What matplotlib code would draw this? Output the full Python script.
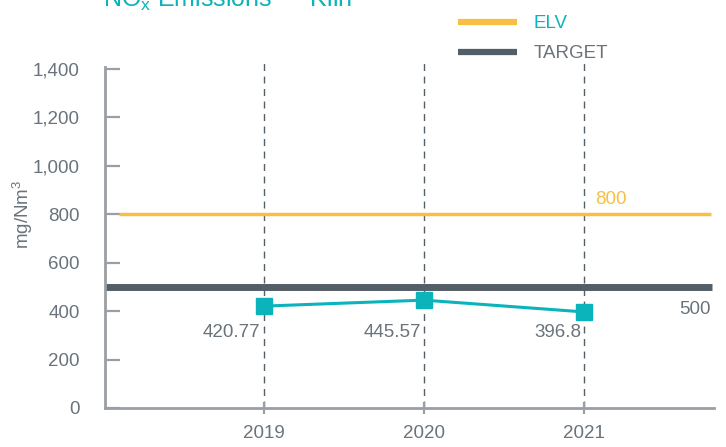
import matplotlib
matplotlib.use("Agg")
import matplotlib.pyplot as plt
from matplotlib.lines import Line2D
from matplotlib.ticker import FuncFormatter

years = ["2019", "2020", "2021"]
nox = [420.77, 445.57, 396.8]
elv = 800
target = 500
yticks = [0, 200, 400, 600, 800, 1000, 1200, 1400]

TEAL = "#0BB3BB"
YELLOW = "#F8BF45"
DARK = "#545E66"
AXIS = "#9A9FA5"
TEXT = "#6A737B"
FS = 13.5

plt.rcParams['font.family'] = ['Liberation Sans', 'DejaVu Sans']

fig = plt.figure(figsize=(7.26, 4.47), dpi=100)
ax = fig.add_axes([105/726, 1-408/447, (714-105)/726, (408-63)/447])

x = list(range(len(years)))
ax.set_xlim(-0.99, 2.81)
ax.set_ylim(0, 1425)

for xi in x:
    ax.axvline(xi, color=DARK, lw=1, ls=(0, (5, 4)), zorder=1)

ax.plot([-0.9, 2.79], [elv, elv], color=YELLOW, lw=2.5, zorder=2, solid_capstyle='butt')
ax.plot([-0.99, 2.8], [target, target], color=DARK, lw=5, zorder=2, solid_capstyle='butt')
ax.plot(x, nox, color=TEAL, lw=2.2, marker='s', ms=11.5, zorder=3)

for xi, v in zip(x, nox):
    ax.text(xi - 0.02, 310, f"{v:g}", ha='right', va='center', fontsize=FS, color=TEXT)

ax.text(2.07, elv + 25, f"{elv}", ha='left', va='bottom', fontsize=FS, color=YELLOW)
ax.text(2.79, 405, f"{target}", ha='right', va='center', fontsize=FS, color=TEXT)

ax.set_yticks(yticks)
ax.yaxis.set_major_formatter(FuncFormatter(lambda v, p: f"{int(v):,}"))
ax.set_xticks(x)
ax.set_xticklabels(years)

for s in ['top', 'right']:
    ax.spines[s].set_visible(False)
for s in ['left', 'bottom']:
    ax.spines[s].set_color(AXIS)
    ax.spines[s].set_linewidth(2)
ax.spines['left'].set_bounds(0, 1410)

ax.tick_params(axis='y', direction='in', length=11, width=1.6, color=AXIS,
               labelsize=FS, labelcolor=TEXT, pad=18)
ax.tick_params(axis='x', direction='inout', length=8, width=1.6, color=AXIS,
               labelsize=FS, labelcolor=TEXT, pad=8)

ax.set_ylabel("mg/Nm$^\\mathregular{3}$", fontsize=FS, color=TEXT)
ax.yaxis.set_label_coords(-70/609, 0.56)

fig.text(103/726, 1-7/447, "NO$_\\mathregular{x}$ Emissions — Kiln", fontsize=18,
         color=TEAL, ha='left', va='baseline')

handles = [Line2D([], [], color=YELLOW, lw=4.5, solid_capstyle='butt'),
           Line2D([], [], color=DARK, lw=4.5, solid_capstyle='butt')]
leg = fig.legend(handles, ["ELV", "TARGET"], loc='upper left',
                 bbox_to_anchor=(449/726, 1-6/447), frameon=False,
                 fontsize=FS, handlelength=3.1, handletextpad=0.9,
                 labelspacing=0.68, borderpad=0)
leg.get_texts()[0].set_color(TEAL)
leg.get_texts()[1].set_color(TEXT)

fig.savefig("out.png", dpi=100)
